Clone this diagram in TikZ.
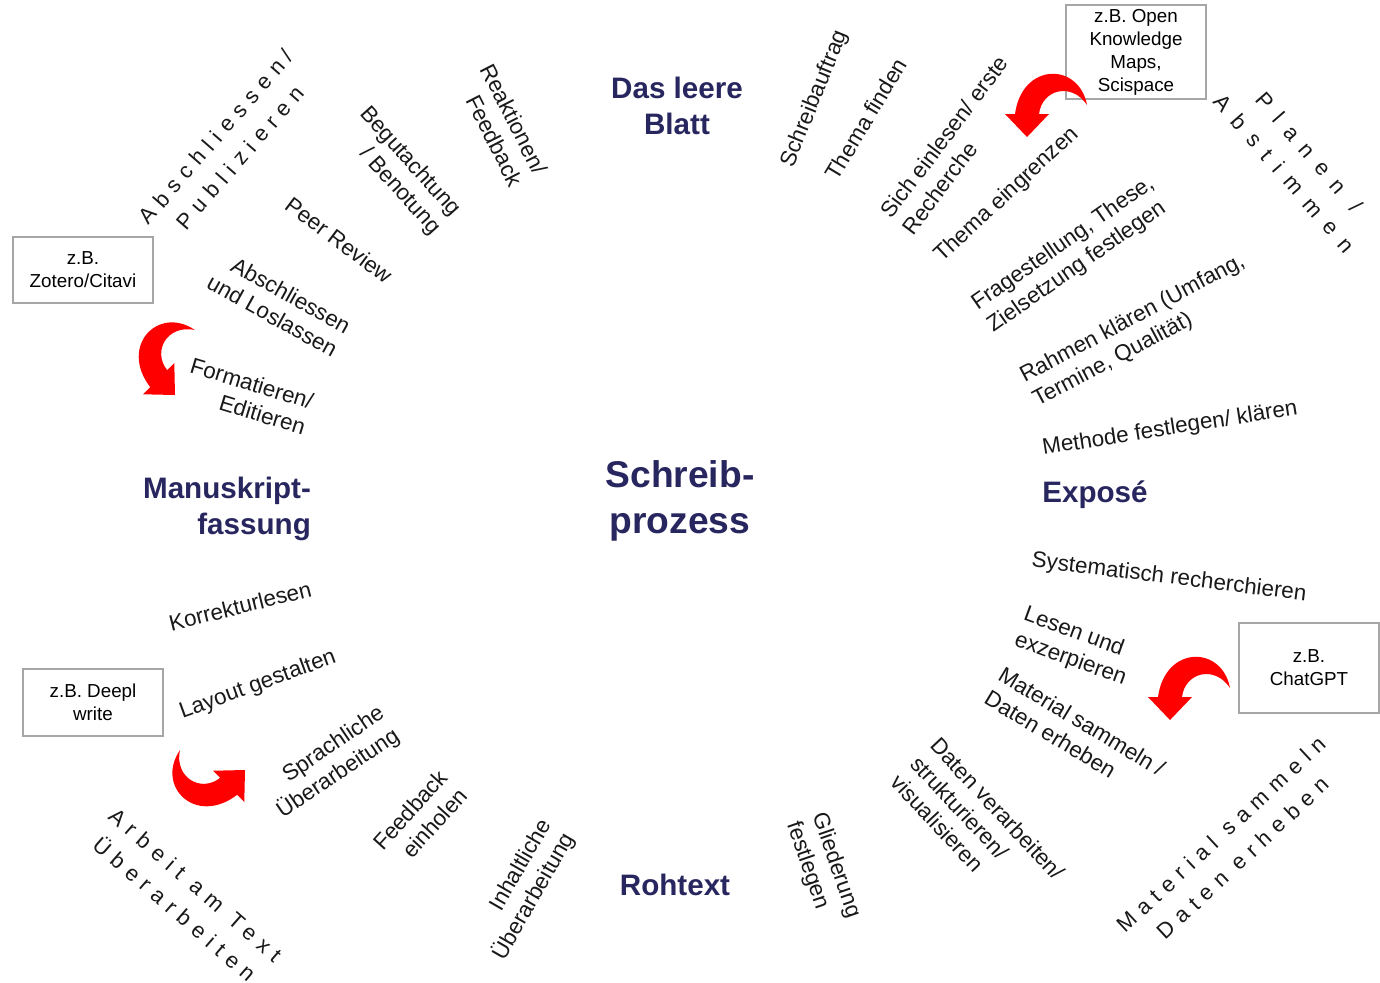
\documentclass[tikz,border=0pt]{standalone}
\usepackage{fontspec}
\setmainfont{Liberation Sans}
\newfontfamily\spacedfont[LetterSpace=33]{Liberation Sans}
\newfontfamily\widespacedfont[LetterSpace=52]{Liberation Sans}
\definecolor{navy}{RGB}{40,38,95}
\definecolor{boxgray}{RGB}{166,166,166}
\definecolor{arrowred}{RGB}{255,0,0}
\tikzset{
  lbl/.style={font=\fontsize{11.2}{13.5}\selectfont, inner sep=0pt, text=black!90},
  hd/.style={font=\bfseries\fontsize{14.8}{18}\selectfont, text=navy, inner sep=0pt},
  big/.style={font=\bfseries\fontsize{18.6}{23}\selectfont, text=navy, inner sep=0pt},
  sp/.style={font=\spacedfont\fontsize{11}{16}\selectfont, inner sep=0pt, text=black!90},
  wsp/.style={font=\widespacedfont\fontsize{11}{16.5}\selectfont, inner sep=0pt, text=black!90},
  note/.style={draw=boxgray, line width=1pt, fill=white, minimum width=70pt,
    font=\fontsize{9.4}{11.5}\selectfont, align=center, inner sep=2pt},
  redarrow/.pic={\fill[arrowred] (60,-32) .. controls (52,-75) and (-5,-75) .. (-12,-23)
     -- (-22,-23) -- (0,0) -- (22,-23) -- (12,-23)
     .. controls (15,-48) and (45,-55) .. (60,-32) -- cycle;}
}
\begin{document}
\begin{tikzpicture}[x=0.5pt,y=-0.5pt]
\useasboundingbox[fill=white] (0,0) rectangle (1380,982);

% centre and phase headings
\node[big, align=center] (prozess) at (680,501) {Schreib-\\prozess};
\node[hd, align=center] (blatt) at (677,106) {Das leere\\Blatt};
\node[hd] (expose) at (1095,495) {Exposé};
\node[hd] (rohtext) at (675,885) {Rohtext};
\node[hd, align=right] (manu) at (227,509) {Manuskript-\\fassung};

% right side
\node[lbl, rotate=68] (schreibauftrag) at (815,99) {Schreibauftrag};
\node[lbl, rotate=59] (themafinden) at (866,119) {Thema finden};
\node[lbl, rotate=53, align=left] (einlesen) at (955,145) {Sich einlesen/ erste\\Recherche};
\node[lbl, rotate=43] (eingrenzen) at (1007,195) {Thema eingrenzen};
\node[lbl, rotate=35, align=left] (frage) at (1071,255) {Fragestellung, These,\\Zielsetzung festlegen};
\node[lbl, rotate=28, align=left] (rahmen) at (1139,331) {Rahmen klären (Umfang,\\Termine, Qualität)};
\node[lbl, rotate=9] (methode) at (1170,429) {Methode festlegen/ klären};
\node[lbl, rotate=-7] (syst) at (1169,578) {Systematisch recherchieren};
\node[lbl, rotate=-20, align=left] (lesen) at (1075,647) {Lesen und\\exzerpieren};
\node[lbl, rotate=-31, align=left] (material) at (1075,733) {Material sammeln /\\Daten erheben};
\node[lbl, rotate=-47, align=left] (daten) at (978,827) {Daten verarbeiten/\\strukturieren/\\visualisieren};
\node[lbl, rotate=-71, align=left] (gliederung) at (823,870) {Gliederung\\festlegen};

% left side
\node[lbl, rotate=60, align=right] (inhalt) at (523,890) {Inhaltliche\\Überarbeitung};
\node[lbl, rotate=48, align=right] (feedback) at (420,819) {Feedback\\einholen};
\node[lbl, rotate=34, align=right] (sprach) at (331,763) {Sprachliche\\Überarbeitung};
\node[lbl, rotate=20] (layout) at (258,685) {Layout gestalten};
\node[lbl, rotate=14] (korr) at (240,606) {Korrekturlesen};
\node[lbl, rotate=-17, align=right] (format) at (248,396) {Formatieren/\\Editieren};
\node[lbl, rotate=-29, align=right] (abschl) at (279,304) {Abschliessen\\und Loslassen};
\node[lbl, rotate=-37] (peer) at (339,240) {Peer Review};
\node[lbl, rotate=-48, align=right] (begut) at (400,171) {Begutachtung\\/ Benotung};
\node[lbl, rotate=-63, align=right] (reakt) at (502,125) {Reaktionen/\\Feedback};

% outer ring (letter-spaced)
\node[sp, rotate=49, align=center] (publ) at (228,147) {Abschliessen/\\Publizieren};
\node[wsp, rotate=-49, align=center] (planen) at (1297,163) {Planen /\\Abstimmen};
\node[sp, rotate=43, align=center] (sammeln) at (1232,846) {Material sammeln\\Daten erheben};
\node[sp, rotate=-41, align=center] (arbeit) at (185,897) {Arbeit am Text\\Überarbeiten};

% tool boxes
\node[note, minimum height=45pt] (okm) at (1136,52) {z.B. Open\\Knowledge\\Maps,\\Scispace};
\node[note, minimum height=33pt] (zotero) at (83,270) {z.B.\\Zotero/Citavi};
\node[note, minimum height=33.5pt] (deepl) at (93,702) {z.B. Deepl\\write};
\node[note, minimum height=45pt] (chatgpt) at (1309,668) {z.B.\\ChatGPT};

% red curved arrows
\pic at (1027,137) {redarrow};
\pic at (1170,720) {redarrow};
\pic[rotate=45] at (175,395) {redarrow};
\pic[rotate=135] at (245,770) {redarrow};
\end{tikzpicture}
\end{document}
